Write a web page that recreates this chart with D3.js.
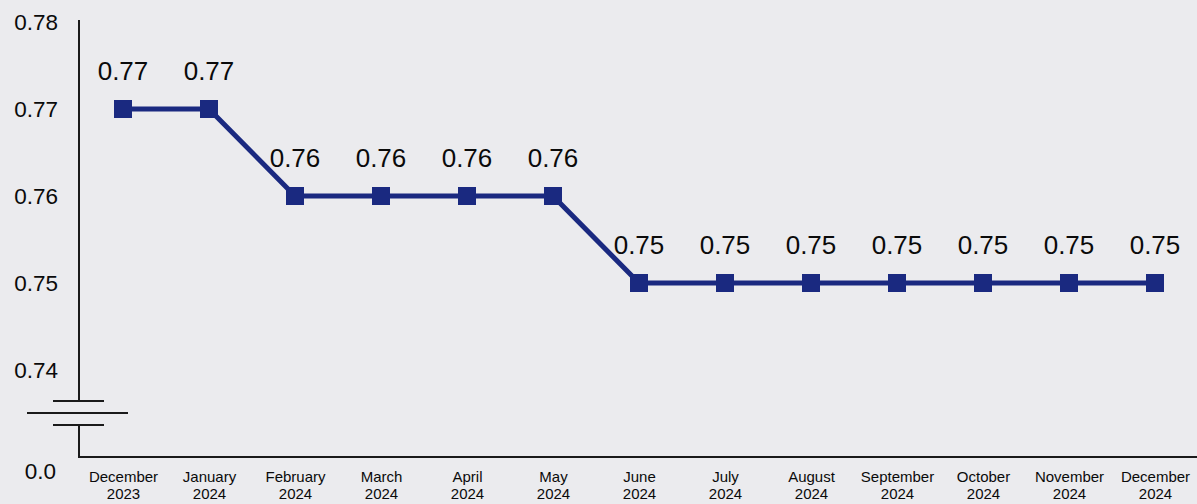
<!DOCTYPE html>
<html><head><meta charset="utf-8">
<script src="https://cdn.jsdelivr.net/npm/d3@7/dist/d3.min.js"></script>
<style>
html,body{margin:0;padding:0;background:#ebebee;}
svg{display:block;font-family:"Liberation Sans",Arial,sans-serif;}
</style></head><body>
<svg id="c" width="1197" height="504"></svg>
<script>
const months = ["December","January","February","March","April","May","June","July","August","September","October","November","December"];
const years = ["2023","2024","2024","2024","2024","2024","2024","2024","2024","2024","2024","2024","2024"];
const values = [0.77,0.77,0.76,0.76,0.76,0.76,0.75,0.75,0.75,0.75,0.75,0.75,0.75];
const yTicks = [0.74,0.75,0.76,0.77,0.78];
const zeroLabel = "0.0";

const svg = d3.select("#c");
const idx = d3.range(values.length);
const x = d3.scalePoint().domain(idx).range([123,1155]);
const y = d3.scaleLinear().domain([0.74,0.78]).range([370,22]);

const navy = "#1a2980";
const axisCol = "#1a1a1a";

// y axis tick labels
const yAxis = d3.axisLeft(y).tickValues(yTicks).tickSize(0).tickFormat(d3.format(".2f"));
const gy = svg.append("g").attr("transform","translate(58,0)").call(yAxis);
gy.select(".domain").remove();
gy.selectAll("text").attr("font-size",22.5).attr("fill","#0a0a0a").attr("x",0).attr("text-anchor","end").attr("dy","0.35em");

svg.append("text").attr("x",56).attr("y",471).attr("dy","0.35em").attr("text-anchor","end")
  .attr("font-size",22.5).attr("fill","#0a0a0a").text(zeroLabel);

// axis lines with break
const ax = 79, baseY = 457;
svg.append("line").attr("x1",ax).attr("x2",ax).attr("y1",20).attr("y2",401).attr("stroke",axisCol).attr("stroke-width",2);
svg.append("line").attr("x1",ax).attr("x2",ax).attr("y1",425).attr("y2",baseY+1).attr("stroke",axisCol).attr("stroke-width",2);
svg.append("line").attr("x1",53).attr("x2",104).attr("y1",401).attr("y2",401).attr("stroke",axisCol).attr("stroke-width",2);
svg.append("line").attr("x1",27).attr("x2",128).attr("y1",413).attr("y2",413).attr("stroke",axisCol).attr("stroke-width",2);
svg.append("line").attr("x1",53).attr("x2",104).attr("y1",425).attr("y2",425).attr("stroke",axisCol).attr("stroke-width",2);
svg.append("line").attr("x1",ax).attr("x2",1197).attr("y1",baseY).attr("y2",baseY).attr("stroke",axisCol).attr("stroke-width",2);

// x axis labels
const xAxis = d3.axisBottom(x).tickSize(0).tickFormat(()=>"");
const gx = svg.append("g").attr("transform",`translate(0,${baseY})`).call(xAxis);
gx.select(".domain").remove();
gx.selectAll(".tick").each(function(d){
  const t = d3.select(this).append("text").attr("text-anchor","middle").attr("font-size",15).attr("fill","#0a0a0a");
  t.append("tspan").attr("x",0).attr("y",25).text(months[d]);
  t.append("tspan").attr("x",0).attr("y",42).text(years[d]);
});

// line
const line = d3.line().x((d,i)=>x(i)).y(d=>y(d));
svg.append("path").datum(values).attr("d",line).attr("fill","none").attr("stroke",navy).attr("stroke-width",5).attr("stroke-linejoin","miter");

// markers
const s = 18;
svg.selectAll("rect.m").data(values).enter().append("rect").attr("class","m")
  .attr("x",(d,i)=>x(i)-s/2).attr("y",d=>y(d)-s/2).attr("width",s).attr("height",s).attr("fill",navy);

// data labels
svg.selectAll("text.lbl").data(values).enter().append("text").attr("class","lbl")
  .attr("x",(d,i)=>x(i)).attr("y",d=>y(d)-38).attr("dy","0.35em").attr("text-anchor","middle")
  .attr("font-size",26).attr("fill","#0a0a0a").text(d=>d3.format(".2f")(d));
</script>
</body></html>
